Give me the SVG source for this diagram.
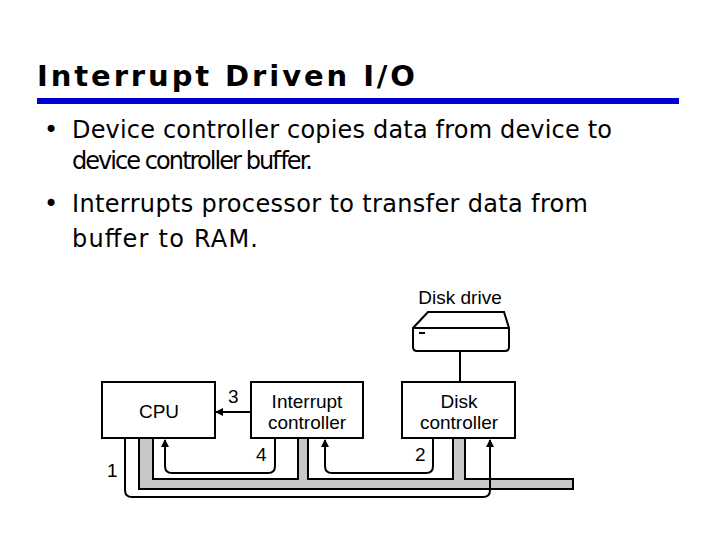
<svg xmlns="http://www.w3.org/2000/svg" width="720" height="540" viewBox="0 0 720 540">
<style>
.t{font-family:"DejaVu Sans",Verdana,sans-serif;font-size:24px;fill:#000}
.d{font-family:"Liberation Sans",Arial,sans-serif;font-size:19px;fill:#000}
.box{fill:#fff;stroke:#000;stroke-width:2}
.ln{fill:none;stroke:#000;stroke-width:2}
</style>
<defs><marker id="ah" markerWidth="8" markerHeight="8" refX="7" refY="4" orient="auto" markerUnits="userSpaceOnUse"><path d="M0,0 L8,4 L0,8 z" fill="#000"/></marker></defs>
<rect width="720" height="540" fill="#fff"/>
<text x="37" y="86" font-family="DejaVu Sans,Verdana,sans-serif" font-weight="bold" font-size="29" textLength="378">Interrupt Driven I/O</text>
<rect x="37" y="98" width="642" height="6" fill="#0000d0"/>
<text class="t" x="44" y="138">•</text>
<text class="t" x="72" y="138" textLength="540">Device controller copies data from device to</text>
<text class="t" x="72" y="169" textLength="241">device controller buffer.</text>
<text class="t" x="44" y="212">•</text>
<text class="t" x="72" y="212" textLength="516">Interrupts processor to transfer data from</text>
<text class="t" x="72" y="247" textLength="186">buffer to  RAM.</text>
<g id="bus"><path d="M139,438 V489 H573 V479 H465 V438 H453 V479 H308 V438 H298 V479 H153 V438 Z" fill="#c8c8c8" stroke="#000" stroke-width="2"/></g>
<g id="cpu"><rect class="box" x="102" y="382" width="113" height="56"/><text class="d" x="159" y="418" text-anchor="middle">CPU</text></g>
<g id="intc"><rect class="box" x="251" y="382" width="112" height="56"/><text class="d" x="307" y="408" text-anchor="middle">Interrupt</text><text class="d" x="307" y="429" text-anchor="middle">controller</text></g>
<g id="diskc"><rect class="box" x="402" y="382" width="113" height="56"/><text class="d" x="459" y="408" text-anchor="middle">Disk</text><text class="d" x="459" y="429" text-anchor="middle">controller</text></g>
<g id="drive"><text class="d" x="460" y="304" text-anchor="middle">Disk drive</text><path d="M428,312 H504 L509,328 V347 Q509,351 505,351 H417 Q413,351 413,347 V328 Z" class="box"/><line x1="413" y1="328" x2="509" y2="328" stroke="#000" stroke-width="2"/><rect x="419" y="332" width="6" height="2" fill="#000"/></g>
<g id="connectors">
<line class="ln" x1="460" y1="351" x2="460" y2="382"/>
<line class="ln" x1="251" y1="412" x2="216" y2="412" marker-end="url(#ah)"/>
<path class="ln" d="M125,438 V490 Q125,497 132,497 H483 Q490,497 490,490 V440" marker-end="url(#ah)"/>
<path class="ln" d="M433,438 V466 Q433,473 426,473 H332 Q325,473 325,466 V440" marker-end="url(#ah)"/>
<path class="ln" d="M275,438 V466 Q275,473 268,473 H172 Q165,473 165,466 V440" marker-end="url(#ah)"/>
<text class="d" x="107" y="477">1</text>
<text class="d" x="415" y="461">2</text>
<text class="d" x="228" y="403">3</text>
<text class="d" x="256" y="461">4</text>
</g>
</svg>
